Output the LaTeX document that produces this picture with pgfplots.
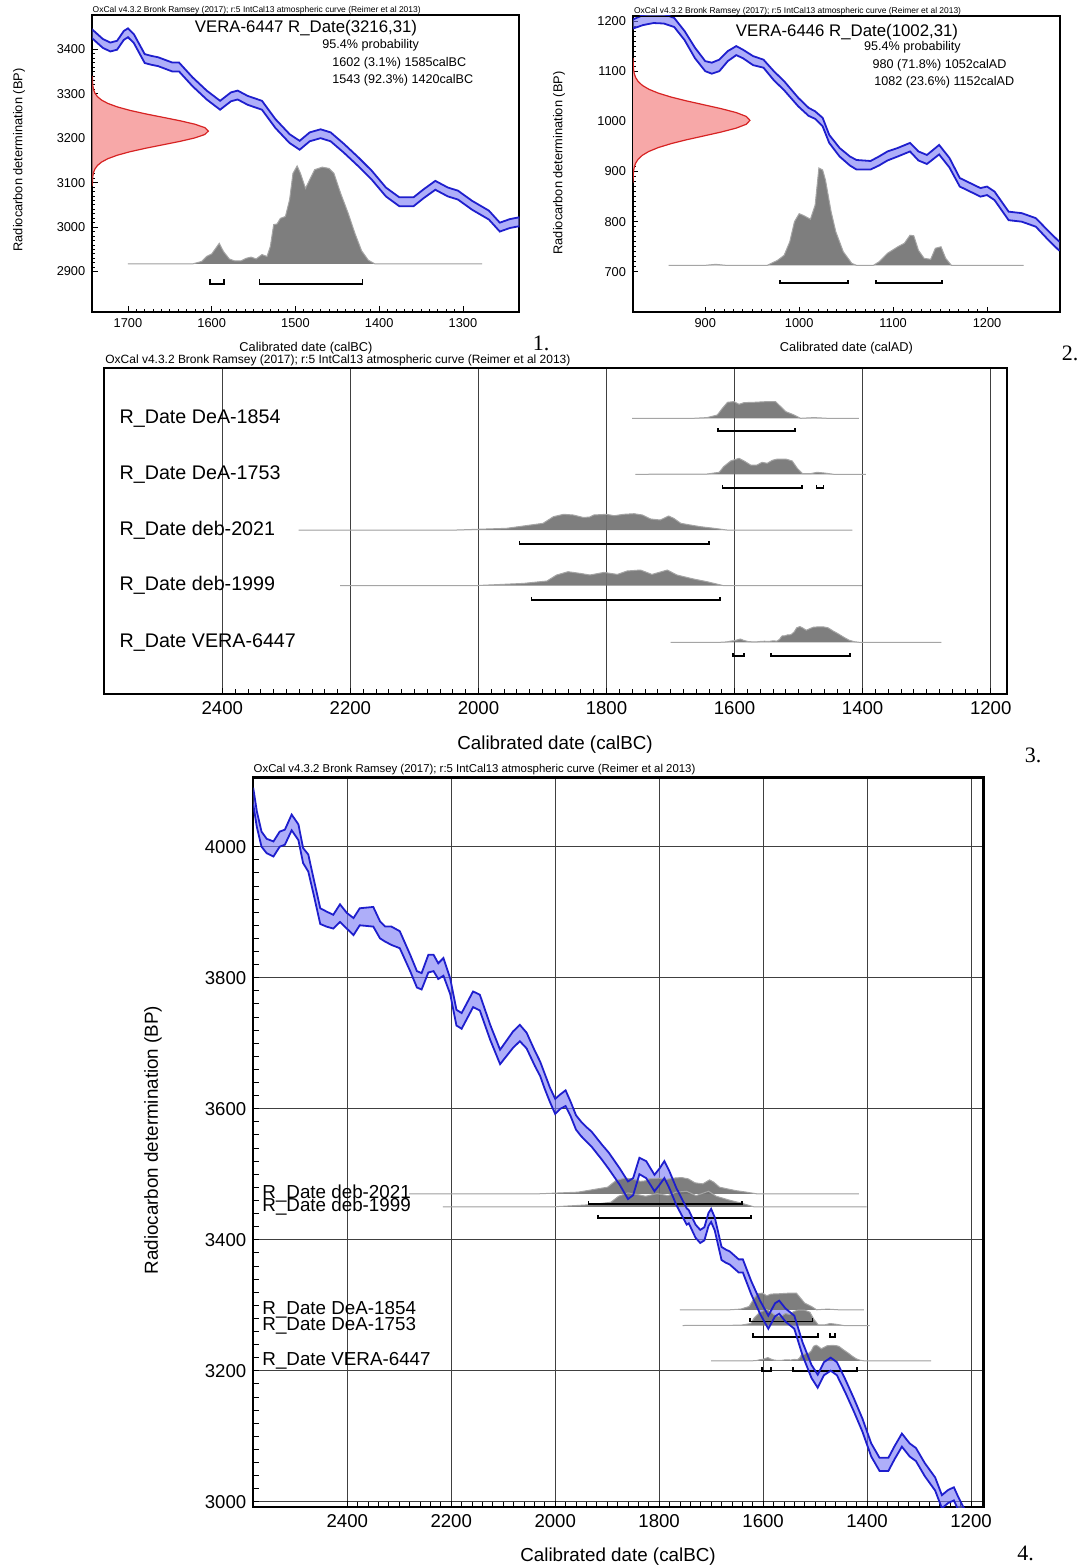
\documentclass[border=0pt]{standalone}
\usepackage{fontspec}
\setmainfont{Liberation Sans}
\newfontfamily\timesfont{Liberation Serif}
\usepackage{graphicx}
\usepackage{pgfplots}
\pgfplotsset{compat=1.18}
\usepackage{pgfplotstable}
\usepgfplotslibrary{fillbetween}

\definecolor{bandfill}{RGB}{120,120,245}
\definecolor{bandline}{RGB}{30,30,205}
\definecolor{distgray}{RGB}{112,112,112}
\definecolor{baseln}{RGB}{165,165,165}
\definecolor{redfill}{RGB}{247,168,168}
\definecolor{redline}{RGB}{215,35,35}

\newcommand\fA{\fontsize{6.4}{7.5}\selectfont}
\newcommand\fT{\fontsize{8.4}{9.5}\selectfont}
\newcommand\fP{\fontsize{6.3}{7.2}\selectfont}
\newcommand\fB{\fontsize{9.3}{10.5}\selectfont}
\newcommand\fL{\fontsize{9.4}{11}\selectfont}
\newcommand\fM{\fontsize{9.85}{11}\selectfont}
\newcommand\fN{\timesfont\fontsize{11}{12}\selectfont}
\newcommand\oxhead{\underline{OxCal v4.3.2 Bronk Ramsey (2017); r:5 IntCal13 atmospheric curve (Reimer et al 2013)}}

% IntCal13 band, calBC: upper and lower edge (BP)
\pgfplotstableread{
x u l
2581 4090 4065
2574 4054 4030
2565 4023 4000
2555 4012 3990
2542 4008 3985
2530 4023 4000
2520 4026 4003
2507 4049 4025
2494 4034 4010
2485 3998 3975
2475 3988 3962
2465 3952 3928
2452 3906 3882
2440 3901 3878
2427 3896 3875
2414 3912 3885
2401 3899 3875
2388 3891 3865
2376 3906 3880
2350 3908 3878
2337 3886 3860
2327 3878 3855
2315 3878 3850
2299 3871 3845
2279 3835 3810
2266 3810 3785
2257 3807 3782
2244 3835 3808
2234 3835 3810
2225 3822 3798
2215 3830 3803
2202 3799 3775
2190 3751 3727
2180 3746 3722
2158 3779 3755
2145 3774 3750
2125 3728 3705
2106 3690 3668
2081 3718 3693
2068 3728 3703
2055 3716 3692
2039 3688 3665
2029 3672 3650
2020 3653 3630
2010 3632 3610
2000 3615 3592
1990 3622 3600
1980 3628 3604
1970 3610 3588
1960 3590 3568
1950 3580 3558
1940 3572 3550
1930 3565 3542
1920 3555 3532
1910 3545 3522
1897 3533 3508
1876 3509 3484
1860 3489 3462
1850 3494 3468
1838 3525 3500
1825 3520 3494
1809 3499 3474
1799 3509 3484
1790 3520 3494
1780 3504 3478
1767 3479 3453
1747 3448 3423
1743 3445 3425
1730 3423 3403
1721 3415 3395
1713 3419 3399
1705 3441 3421
1700 3447 3427
1693 3434 3414
1680 3389 3369
1672 3385 3365
1664 3382 3362
1647 3370 3350
1639 3370 3350
1623 3337 3317
1606 3307 3287
1590 3284 3264
1577 3303 3283
1569 3307 3287
1557 3295 3275
1540 3284 3264
1524 3243 3223
1507 3209 3189
1495 3194 3174
1483 3213 3193
1470 3220 3200
1458 3213 3193
1442 3187 3167
1425 3157 3137
1409 3127 3107
1392 3089 3069
1376 3067 3047
1359 3067 3047
1347 3085 3065
1333 3104 3084
1318 3089 3069
1306 3082 3062
1289 3059 3039
1269 3037 3017
1256 3010 2990
1244 3018 2998
1233 3022 3002
1225 3008 2988
1215 2992 2972
1200 2975 2955
1170 2940 2920
}\curveBC

% IntCal13 band, calAD
\pgfplotstableread{
x u l
823 1203 1185
834 1212 1192
845 1216 1196
856 1214 1195
867 1206 1188
878 1180 1162
889 1147 1126
900 1120 1100
907 1117 1095
915 1123 1100
924 1140 1120
933 1150 1132
940 1143 1126
951 1130 1112
962 1123 1107
973 1100 1082
984 1080 1062
999 1047 1030
1010 1027 1011
1017 1020 1005
1025 1007 990
1032 973 957
1043 947 930
1054 930 912
1061 923 904
1076 921 904
1085 930 912
1094 940 922
1105 947 930
1118 957 940
1127 940 922
1136 933 915
1149 953 934
1160 927 908
1171 887 870
1182 877 860
1193 867 850
1200 870 853
1208 860 843
1223 820 803
1237 817 800
1252 807 790
1266 780 762
1277 760 742
}\curveAD

% normal shape of the measured date (z = sigma units)
\pgfplotstableread{
z v
-4.0 0
-3.5 0.0022
-3.25 0.0051
-3.0 0.0111
-2.75 0.0228
-2.5 0.0439
-2.25 0.0796
-2.0 0.1353
-1.75 0.2163
-1.5 0.3247
-1.25 0.4578
-1.0 0.6065
-0.75 0.7548
-0.5 0.8825
-0.25 0.9692
0 1
0.25 0.9692
0.5 0.8825
0.75 0.7548
1.0 0.6065
1.25 0.4578
1.5 0.3247
1.75 0.2163
2.0 0.1353
2.25 0.0796
2.5 0.0439
2.75 0.0228
3.0 0.0111
3.25 0.0051
3.5 0.0022
4.0 0
}\normtab

% calibrated distributions, calBC, height h
\pgfplotstableread{
x h
1700 0
1623 0
1612 0.4
1606 1.2
1600 1.6
1591 3.3
1586 2.0
1579 0.8
1573 0.5
1565 0.5
1559 0.9
1553 1.1
1547 0.8
1540 1.5
1534 1.2
1530 2.8
1526 6.3
1522 6.4
1518 7.3
1512 7.6
1507 10.3
1503 14.5
1498 15.7
1494 14.5
1488 12.1
1483 13.5
1477 15.1
1468 15.5
1460 15.3
1454 14.5
1446 11.3
1437 8.1
1429 4.9
1421 2.1
1413 0.6
1405 0
1277 0
}\dVera

\pgfplotstableread{
x h
1760 0
1664 0
1643 0.7
1627 3.3
1619 10
1611 16
1601 16.7
1593 14
1585 15.7
1570 16
1549 16.7
1536 16.7
1528 11.7
1520 6.7
1507 3.3
1497 0
1476 0.7
1455 0
1406 0
}\dDeAi

\pgfplotstableread{
x h
1755 0
1643 0.3
1624 2
1617 7.7
1606 13.3
1593 16
1585 13.3
1575 9.3
1565 9.3
1557 12
1549 11
1541 14
1533 15.3
1520 15.3
1510 13.3
1502 6
1494 0.7
1481 0.7
1471 2
1460 1.3
1445 0
1395 0
}\dDeAii

\pgfplotstableread{
x h
2281 0
2034 0
1956 1.7
1899 6.7
1883 13.3
1867 15.7
1852 15
1836 12.5
1826 13
1820 15
1800 15.7
1788 14.3
1773 15.7
1757 16.3
1744 15
1731 11
1716 10
1703 14
1695 11.7
1684 6.7
1669 5
1653 3.3
1632 1.7
1612 0
1416 0
}\dDebi

\pgfplotstableread{
x h
2216 0
2008 0
1930 2.3
1893 4.7
1878 10.7
1860 14
1841 12.3
1826 10.7
1804 13.3
1783 11.3
1768 14.7
1747 15.7
1729 11.3
1705 15.7
1690 10.7
1679 9
1664 6.7
1643 4
1617 0
1401 0
}\dDebii

% VERA-6446, calAD, BP
\pgfplotstableread{
x y
861 713
900 713
911 715
922 713
966 713
977 723
984 733
990 760
995 800
1000 816
1004 813
1012 805
1017 833
1021 907
1025 903
1028 883
1034 820
1039 780
1047 740
1056 717
1061 713
1079 713
1085 720
1094 737
1105 750
1112 757
1118 773
1122 772
1127 743
1133 727
1140 725
1145 747
1151 750
1156 727
1162 713
1239 713
}\dVeraAD

\pgfplotsset{
  oxbase/.style={scale only axis, anchor=north west, no markers, clip=true,
    tick pos=left, tick align=inside,
    axis line style={line width=0.9pt},
    every tick/.style={black, line width=0.4pt},
    /pgf/number format/assume math mode=true,
    /pgf/number format/1000 sep={}},
  small/.style={oxbase, major tick length=2.6pt, minor tick length=1.4pt,
    minor x tick num=9, minor y tick num=9,
    ticklabel style={font=\fA}},
  big/.style={oxbase, major tick length=3pt, minor tick length=2.6pt,
    minor x tick num=9, ticklabel style={font=\fB},
    axis line style={line width=1.1pt},
    grid style={black!75, line width=0.5pt}},
  bandln/.style={bandline, line width=0.9pt},
  bandfl/.style={bandfill, fill opacity=0.6, draw=none},
  dist/.style={fill=distgray, fill opacity=0.9, draw=baseln, line width=0.5pt},
  brk/.style={black, line width=0.9pt},
}

\begin{document}
\begin{tikzpicture}

% ---------- 1. ----------
\begin{axis}[small, at={(46.15pt,-7.5pt)}, width=213.5pt, height=148.3pt,
  x dir=reverse, xmin=1232.7, xmax=1742.6, ymin=2810, ymax=3477,
  xtick={1300,1400,...,1700}, ytick={2900,3000,...,3400}]
\addplot[fill=redfill, draw=redline, line width=0.6pt]
  table[x expr=1742.6-138.6*\thisrow{v}, y expr=3216+31*\thisrow{z}] {\normtab};
\addplot[draw=none, name path=ua] table[x=x, y=u] {\curveBC};
\addplot[draw=none, name path=la] table[x=x, y=l] {\curveBC};
\addplot[bandfl] fill between[of=ua and la];
\addplot[bandln] table[x=x, y=u] {\curveBC};
\addplot[bandln] table[x=x, y=l] {\curveBC};
\addplot[dist] table[x=x, y expr=2917.2+14.04*\thisrow{h}] {\dVera};
\addplot[brk] coordinates {(1602,2883) (1602,2872) (1585,2872) (1585,2883)};
\addplot[brk] coordinates {(1543,2883) (1543,2872) (1420,2872) (1420,2883)};
\end{axis}

% ---------- 2. ----------
\begin{axis}[small, at={(316.5pt,-8pt)}, width=213.5pt, height=148pt,
  xmin=823.1, xmax=1277.7, ymin=620, ymax=1210,
  xtick={900,1000,...,1200}, ytick={700,800,...,1200}]
\addplot[fill=redfill, draw=redline, line width=0.6pt]
  table[x expr=823.1+124.5*\thisrow{v}, y expr=1002+31*\thisrow{z}] {\normtab};
\addplot[draw=none, name path=ub] table[x=x, y=u] {\curveAD};
\addplot[draw=none, name path=lb] table[x=x, y=l] {\curveAD};
\addplot[bandfl] fill between[of=ub and lb];
\addplot[bandln] table[x=x, y=u] {\curveAD};
\addplot[bandln] table[x=x, y=l] {\curveAD};
\addplot[dist] table[x=x, y=y] {\dVeraAD};
\addplot[brk] coordinates {(980,683) (980,677) (1052,677) (1052,683)};
\addplot[brk] coordinates {(1082,683) (1082,677) (1152,677) (1152,683)};
\end{axis}

% ---------- 3. ----------
\begin{axis}[big, at={(52pt,-184.15pt)}, width=451.35pt, height=163pt,
  x dir=reverse, xmin=1175, xmax=2584.8, ymin=0, ymax=326,
  xtick={1200,1400,...,2400}, ytick=\empty, xmajorgrids]
\addplot[dist] table[x=x, y expr=276+\thisrow{h}] {\dDeAi};
\addplot[dist] table[x=x, y expr=220+\thisrow{h}] {\dDeAii};
\addplot[dist] table[x=x, y expr=164.3+\thisrow{h}] {\dDebi};
\addplot[dist] table[x=x, y expr=108.6+\thisrow{h}] {\dDebii};
\addplot[dist] table[x=x, y expr=52+\thisrow{h}] {\dVera};
\addplot[brk] coordinates {(1626,266) (1626,263) (1505,263) (1505,266)};
\addplot[brk] coordinates {(1619,209.5) (1619,206.5) (1495,206.5) (1495,209.5)};
\addplot[brk] coordinates {(1472,209.5) (1472,206.5) (1461,206.5) (1461,209.5)};
\addplot[brk] coordinates {(1936,153.5) (1936,150.5) (1640,150.5) (1640,153.5)};
\addplot[brk] coordinates {(1917,97.5) (1917,94.5) (1623,94.5) (1623,97.5)};
\addplot[brk] coordinates {(1602,41) (1602,38) (1585,38) (1585,41)};
\addplot[brk] coordinates {(1543,41) (1543,38) (1420,38) (1420,41)};
\node[anchor=west, font=\fM, inner sep=0] at (axis cs:2561,276) {R\_Date DeA-1854};
\node[anchor=west, font=\fM, inner sep=0] at (axis cs:2561,220) {R\_Date DeA-1753};
\node[anchor=west, font=\fM, inner sep=0] at (axis cs:2561,164.3) {R\_Date deb-2021};
\node[anchor=west, font=\fM, inner sep=0] at (axis cs:2561,108.6) {R\_Date deb-1999};
\node[anchor=west, font=\fM, inner sep=0] at (axis cs:2561,52) {R\_Date VERA-6447};
\end{axis}

% ---------- 4. ----------
\begin{axis}[big, at={(126.65pt,-388.75pt)}, width=365.1pt, height=364.75pt,
  x dir=reverse, xmin=1176, xmax=2580.8, ymin=2991.9, ymax=4105.6,
  xtick={1200,1400,...,2400}, ytick={3000,3200,...,4000},
  minor y tick num=9, grid=major]
\addplot[dist] table[x=x, y expr=3470+1.527*\thisrow{h}] {\dDebi};
\addplot[dist] table[x=x, y expr=3450+1.527*\thisrow{h}] {\dDebii};
\addplot[dist] table[x=x, y expr=3293+1.527*\thisrow{h}] {\dDeAi};
\addplot[dist] table[x=x, y expr=3269+1.527*\thisrow{h}] {\dDeAii};
\addplot[dist] table[x=x, y expr=3215+1.527*\thisrow{h}] {\dVera};
\addplot[brk] coordinates {(1936,3459) (1936,3454) (1640,3454) (1640,3459)};
\addplot[brk] coordinates {(1917,3438) (1917,3433) (1623,3433) (1623,3438)};
\addplot[brk] coordinates {(1626,3280) (1626,3275) (1505,3275) (1505,3280)};
\addplot[brk] coordinates {(1619,3257) (1619,3252) (1495,3252) (1495,3257)};
\addplot[brk] coordinates {(1472,3257) (1472,3252) (1461,3252) (1461,3257)};
\addplot[brk] coordinates {(1602,3205) (1602,3200) (1585,3200) (1585,3205)};
\addplot[brk] coordinates {(1543,3205) (1543,3200) (1420,3200) (1420,3205)};
\addplot[draw=none, name path=uc] table[x=x, y=u] {\curveBC};
\addplot[draw=none, name path=lc] table[x=x, y=l] {\curveBC};
\addplot[bandfl] fill between[of=uc and lc];
\addplot[bandln] table[x=x, y=u] {\curveBC};
\addplot[bandln] table[x=x, y=l] {\curveBC};
\node[anchor=west, font=\fL, inner sep=0] at (axis cs:2564,3470) {R\_Date deb-2021};
\node[anchor=west, font=\fL, inner sep=0] at (axis cs:2564,3450) {R\_Date deb-1999};
\node[anchor=west, font=\fL, inner sep=0] at (axis cs:2564,3293) {R\_Date DeA-1854};
\node[anchor=west, font=\fL, inner sep=0] at (axis cs:2564,3269) {R\_Date DeA-1753};
\node[anchor=west, font=\fL, inner sep=0] at (axis cs:2564,3215) {R\_Date VERA-6447};
\end{axis}

% ---------- texts ----------
\node[anchor=west, inner sep=0] at (46.15pt,-5.5pt) {\resizebox{164pt}{!}{\oxhead}};
\node[anchor=west, inner sep=0] at (316.85pt,-6pt) {\resizebox{163.5pt}{!}{\oxhead}};
\node[anchor=west, inner sep=0] at (52.5pt,-180.85pt) {\resizebox{232.5pt}{!}{\oxhead}};
\node[anchor=west, inner sep=0] at (126.65pt,-385.5pt) {\resizebox{220.85pt}{!}{\oxhead}};

\node[font=\fT] at (153pt,-14.15pt) {VERA-6447 R\_Date(3216,31)};
\node[anchor=west, font=\fP, inner sep=0] at (161pt,-22.5pt) {95.4\% probability};
\node[anchor=west, font=\fP, inner sep=0] at (166pt,-31.7pt) {1602 (3.1\%) 1585calBC};
\node[anchor=west, font=\fP, inner sep=0] at (166pt,-40pt) {1543 (92.3\%) 1420calBC};

\node[font=\fT] at (423.5pt,-15.85pt) {VERA-6446 R\_Date(1002,31)};
\node[anchor=west, font=\fP, inner sep=0] at (431.85pt,-23.85pt) {95.4\% probability};
\node[anchor=west, font=\fP, inner sep=0] at (436.15pt,-32.5pt) {980 (71.8\%) 1052calAD};
\node[anchor=west, font=\fP, inner sep=0] at (437pt,-41.35pt) {1082 (23.6\%) 1152calAD};

\node[font=\fA] at (153pt,-174pt) {Calibrated date (calBC)};
\node[font=\fA] at (423.25pt,-174pt) {Calibrated date (calAD)};
\node[font=\fA, rotate=90] at (9.5pt,-80pt) {Radiocarbon determination (BP)};
\node[font=\fA, rotate=90] at (279.5pt,-81.5pt) {Radiocarbon determination (BP)};
\node[font=\fL] at (277.5pt,-372.5pt) {Calibrated date (calBC)};
\node[font=\fL] at (309pt,-778.35pt) {Calibrated date (calBC)};
\node[font=\fL, rotate=90] at (76.5pt,-570pt) {Radiocarbon determination (BP)};

\node[font=\fN] at (270.5pt,-171.5pt) {1.};
\node[font=\fN] at (535pt,-176.5pt) {2.};
\node[font=\fN] at (516.5pt,-377.5pt) {3.};
\node[font=\fN] at (512.75pt,-776.5pt) {4.};

\pgfresetboundingbox
\path (0,0) rectangle (540pt,-784pt);
\end{tikzpicture}
\end{document}
